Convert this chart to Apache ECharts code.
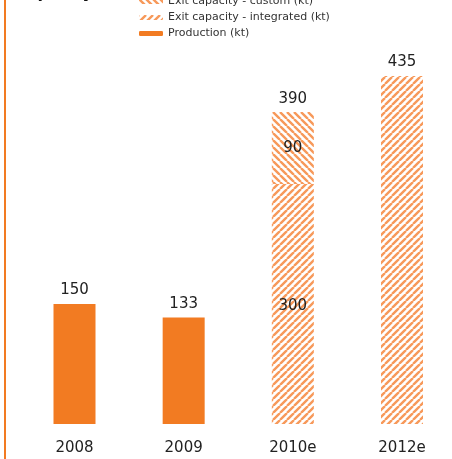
<!DOCTYPE html>
<html>
<head>
<meta charset="utf-8">
<script src="https://cdn.jsdelivr.net/npm/echarts@6/dist/echarts.min.js"></script>
<style>
  html, body { margin: 0; padding: 0; background: #fff; }
  #chart { width: 452px; height: 459px; }
</style>
</head>
<body>
<div id="chart"></div>
<script>
// Years on the x axis
const categories = ['2008', '2009', '2010e', '2012e'];
// Production (kt)
const production = [150, 133, null, null];
// Exit capacity - integrated (kt)
const integrated = [null, null, 300, 435];
// Exit capacity - custom (kt)
const custom = [null, null, 90, null];
// Total exit capacity shown above the 2010e stack
const totals = [null, null, 390, null];

const ORANGE = '#f27b22';
const HATCH = '#f7995a';

// Diagonal hatch tile; dir = 1 for "///", -1 for "\\\"
function hatch(dir) {
  const s = 7;
  const c = document.createElement('canvas');
  c.width = s; c.height = s;
  const g = c.getContext('2d');
  g.fillStyle = '#fff';
  g.fillRect(0, 0, s, s);
  g.strokeStyle = HATCH;
  g.lineWidth = 2.4;
  g.beginPath();
  for (let k = -1; k <= 1; k++) {
    if (dir > 0) {
      g.moveTo(k * s, s); g.lineTo(k * s + s, 0);
    } else {
      g.moveTo(k * s, 0); g.lineTo(k * s + s, s);
    }
  }
  g.stroke();
  return { image: c, repeat: 'repeat' };
}

const FONT = 'DejaVu Sans';
const labelStyle = { color: '#222', fontSize: 15, fontFamily: FONT };

const chart = echarts.init(document.getElementById('chart'));
chart.setOption({
  animation: false,
  title: {
    text: 'Capacity',
    left: 10,
    top: -19,
    textStyle: { fontFamily: FONT, fontSize: 16, fontWeight: 'bold', color: '#111' }
  },
  legend: {
    orient: 'vertical',
    left: 134,
    top: -9,
    itemWidth: 24,
    itemHeight: 5,
    itemGap: 5,
    textStyle: { fontFamily: FONT, fontSize: 11, color: '#333' },
    data: ['Exit capacity - custom (kt)', 'Exit capacity - integrated (kt)', 'Production (kt)']
  },
  // bar centres sit on the grid edges (boundaryGap: false)
  grid: { left: 74.5, right: 50, top: 24, bottom: 35 },
  xAxis: {
    type: 'category',
    data: categories,
    boundaryGap: false,
    axisLine: { show: false },
    axisTick: { show: false },
    axisLabel: { ...labelStyle, margin: 17 }
  },
  yAxis: {
    type: 'value',
    min: 0,
    max: 500,
    show: false,
    splitLine: { show: false }
  },
  series: [
    {
      name: 'Production (kt)',
      type: 'bar',
      stack: 'prod',
      barWidth: 42,
      barGap: '-100%',
      data: production,
      itemStyle: { color: ORANGE },
      label: { show: true, position: 'top', distance: 6, ...labelStyle }
    },
    {
      name: 'Exit capacity - integrated (kt)',
      type: 'bar',
      stack: 'cap',
      barWidth: 42,
      data: integrated.map((v, i) => ({
        value: v,
        label: i === 2
          ? { show: true, position: 'inside', offset: [0, 2], ...labelStyle }
          : (i === 3 ? { show: true, position: 'top', distance: 6, ...labelStyle } : { show: false })
      })),
      itemStyle: { color: hatch(1) }
    },
    {
      name: 'Exit capacity - custom (kt)',
      type: 'bar',
      stack: 'cap',
      barWidth: 42,
      data: custom.map((v, i) => ({
        value: v,
        label: {
          show: v != null,
          position: 'inside',
          ...labelStyle,
          formatter: () => String(v)
        }
      })),
      itemStyle: { color: hatch(-1) }
    },
    {
      // total label above the 2010e stack
      name: 'total',
      type: 'bar',
      stack: 'cap',
      barWidth: 42,
      silent: true,
      data: totals.map(v => (v == null ? null : 0)),
      itemStyle: { color: 'transparent' },
      label: {
        show: true,
        position: 'top',
        distance: 5,
        ...labelStyle,
        formatter: p => (totals[p.dataIndex] == null ? '' : String(totals[p.dataIndex]))
      }
    }
  ],
  graphic: [
    {
      type: 'rect',
      shape: { x: 4, y: 0, width: 2, height: 459 },
      style: { fill: ORANGE }
    }
  ]
});
</script>
</body>
</html>
